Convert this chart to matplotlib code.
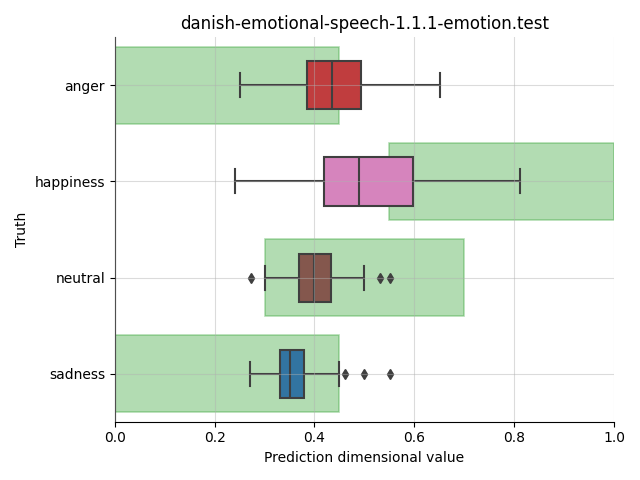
import matplotlib
matplotlib.use("Agg")
import matplotlib.pyplot as plt
from matplotlib.patches import Rectangle

categories = ["anger", "happiness", "neutral", "sadness"]
whislo = [0.251, 0.241, 0.301, 0.271]
q1 = [0.385, 0.419, 0.369, 0.331]
med = [0.436, 0.490, 0.400, 0.351]
q3 = [0.494, 0.597, 0.434, 0.380]
whishi = [0.651, 0.811, 0.500, 0.450]
fliers = [[], [], [0.272, 0.531, 0.551], [0.461, 0.500, 0.551]]
range_lo = [0.0, 0.55, 0.3, 0.0]
range_hi = [0.45, 1.0, 0.7, 0.45]
box_colors = ["#c03d3e", "#d684bd", "#84574d", "#3274a1"]

fig, ax = plt.subplots(figsize=(6.4, 4.8), dpi=100)

for i in range(len(categories)):
    ax.add_patch(Rectangle((range_lo[i], i - 0.4), range_hi[i] - range_lo[i], 0.8,
                           facecolor="#2ca02c", edgecolor="#2ca02c", alpha=0.36,
                           linewidth=1.2, zorder=1))

stats = []
for i, c in enumerate(categories):
    stats.append(dict(label=c, whislo=whislo[i], q1=q1[i], med=med[i], q3=q3[i],
                      whishi=whishi[i], fliers=fliers[i]))

gray = "#3f3f3f"
bp = ax.bxp(stats, positions=range(len(categories)), vert=False, widths=0.5,
            patch_artist=True, showfliers=True,
            boxprops=dict(edgecolor=gray, linewidth=1.5),
            medianprops=dict(color=gray, linewidth=1.5),
            whiskerprops=dict(color=gray, linewidth=1.5),
            capprops=dict(color=gray, linewidth=1.5),
            flierprops=dict(marker="d", markerfacecolor=gray, markeredgecolor=gray,
                            markersize=5, linestyle="none"),
            zorder=2)
for patch, col in zip(bp["boxes"], box_colors):
    patch.set_facecolor(col)

ax.set_ylim(len(categories) - 0.5, -0.5)
ax.set_xlim(0, 1)
ax.set_yticks(range(len(categories)))
ax.set_yticklabels(categories)
ax.grid(True, color="#b0b0b0", alpha=0.45, linewidth=0.8, zorder=3)
ax.set_axisbelow(False)
ax.spines["top"].set_visible(False)
ax.spines["right"].set_visible(False)
ax.set_title("danish-emotional-speech-1.1.1-emotion.test")
ax.set_xlabel("Prediction dimensional value")
ax.set_ylabel("Truth")
fig.tight_layout()
fig.savefig("out.png")
